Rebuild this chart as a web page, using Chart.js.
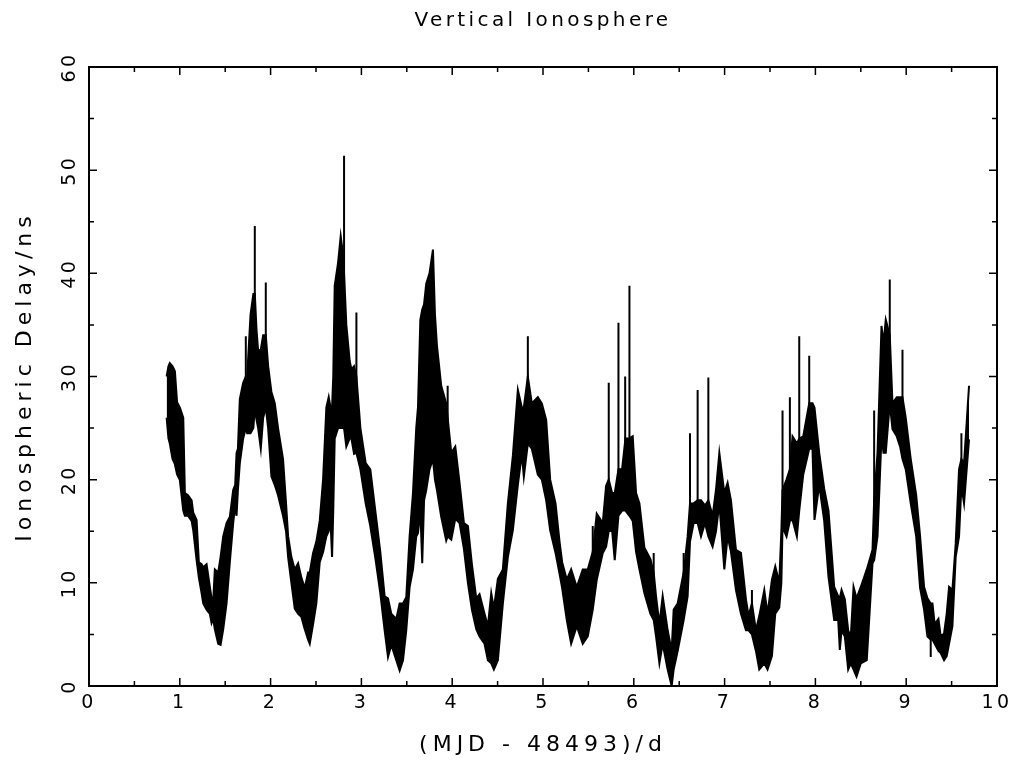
<!DOCTYPE html>
<html>
<head>
<meta charset="utf-8">
<title>Vertical Ionosphere</title>
<script src="https://cdn.jsdelivr.net/npm/chart.js@4.4.0/dist/chart.umd.min.js"></script>
<style>
  html, body { margin: 0; padding: 0; background: #fff; }
</style>
</head>
<body>
<canvas id="chart" width="1016" height="761"></canvas>
<script>
// (MJD - 48493)/d sample positions, with the lower and upper edge of the noisy band
const days = [
  0.855, 0.875, 0.89, 0.92, 0.946, 0.97, 1.0, 1.038, 1.056, 1.09,
  1.13, 1.148, 1.185, 1.21, 1.24, 1.258, 1.295, 1.331, 1.35, 1.368,
  1.386, 1.423, 1.449, 1.478, 1.515, 1.551, 1.588, 1.61, 1.625, 1.64,
  1.661, 1.698, 1.727, 1.742, 1.779, 1.81, 1.826, 1.845, 1.863, 1.892,
  1.918, 1.947, 1.973, 2.009,
  2.046, 2.082, 2.137, 2.17, 2.193, 2.229, 2.266, 2.303, 2.339, 2.376,
  2.413, 2.431, 2.468, 2.504, 2.541, 2.578, 2.614, 2.64, 2.66, 2.677,
  2.69, 2.706, 2.743, 2.772, 2.795, 2.809, 2.834, 2.871, 2.89, 2.919,
  2.945, 2.989,
  3.047, 3.098, 3.157, 3.208, 3.256, 3.293, 3.329, 3.384, 3.421, 3.458,
  3.494, 3.531, 3.568, 3.604, 3.623, 3.649, 3.67, 3.69, 3.714, 3.75,
  3.788, 3.81, 3.832, 3.879, 3.934, 3.95, 3.99,
  4.034, 4.081, 4.129, 4.173, 4.217, 4.265, 4.301, 4.356, 4.393, 4.43,
  4.459, 4.503, 4.558, 4.613, 4.668, 4.723, 4.767, 4.789, 4.833, 4.877,
  4.943, 4.987,
  5.035, 5.079, 5.138, 5.182, 5.211, 5.262, 5.31, 5.372, 5.438, 5.493,
  5.548, 5.592, 5.658, 5.695, 5.724, 5.761, 5.79, 5.831, 5.871, 5.908,
  5.952, 5.988,
  6.025, 6.062, 6.117, 6.183, 6.219, 6.245, 6.282, 6.318, 6.373, 6.417,
  6.439, 6.483, 6.549, 6.593, 6.619, 6.659, 6.703, 6.74, 6.784, 6.821,
  6.868, 6.905, 6.942, 6.997,
  7.033, 7.07, 7.125, 7.18, 7.235, 7.264, 7.301, 7.345, 7.382, 7.437,
  7.473, 7.521, 7.558, 7.602, 7.625, 7.638, 7.682, 7.719, 7.748, 7.796,
  7.822, 7.866, 7.932, 7.968, 7.99,
  8.042, 8.097, 8.144, 8.207, 8.251, 8.269, 8.288, 8.324, 8.361, 8.39,
  8.42, 8.453, 8.5, 8.566, 8.629, 8.647, 8.684, 8.728, 8.75, 8.775,
  8.819, 8.849, 8.896, 8.933, 8.959, 8.995,
  9.05, 9.11, 9.153, 9.197, 9.234, 9.27, 9.289, 9.314, 9.355, 9.38,
  9.417, 9.446, 9.472, 9.509, 9.545, 9.582, 9.608, 9.637, 9.666, 9.692
];
const delayLow = [
  26, 24, 23.5, 22, 21.5, 20.5, 20, 17, 16.5, 16.5,
  16, 15.1, 12.2, 10.5, 9, 8, 7.4, 7, 6.1, 6.5,
  5.5, 4.1, 4, 5.5, 8, 12, 15.8, 17.5, 16.5, 19,
  21.6, 24, 25, 24.5, 24.5, 25, 27, 25.8, 25, 23,
  26, 27, 25, 20.3,
  19.5, 18.5, 16.5, 15, 12.5, 10, 7.5, 7, 6.7, 5.5,
  4.5, 4.1, 6, 8, 12, 13, 14.5, 15, 16, 12.5,
  17, 24, 25, 25, 25, 25, 23.2, 24, 24, 22.5,
  22.6, 21,
  17.7, 15.5, 12.2, 9, 5.4, 2.8, 4, 2.5, 1.5, 2.5,
  5.4, 9.6, 11.3, 14.5, 14.8, 17, 11.9, 18, 19, 21,
  22, 20, 19, 16.4, 14.1, 14.5, 14.2,
  16.2, 15.8, 13.3, 10, 7.4, 5.5, 4.8, 4.1, 2.5, 2.2,
  1.6, 2.5, 8, 12.5, 15.1, 19.5, 22.5, 20.3, 23.5, 23,
  20.5, 20,
  18, 15.1, 12.9, 10.9, 9.5, 6.4, 4.1, 5.8, 4.1, 4.8,
  7.4, 10.3, 12.9, 13.5, 15, 15.1, 12.2, 16.5, 17, 17,
  16.5, 16,
  13, 11.3, 9, 7, 6.4, 4.8, 2.2, 4.1, 1.6, 0,
  1.6, 3.4, 6.4, 8.7, 14, 15.8, 15.8, 14.5, 15.8, 14.5,
  13.5, 15, 17.7, 11.3,
  14.5, 13, 9.3, 7, 5.4, 5.4, 5, 3.4, 1.6, 2.2,
  1.6, 2.9, 7, 7.6, 10, 15.4, 14.5, 16, 16.1, 14.5,
  17, 20.5, 23, 23, 16.1,
  19.5, 16, 10.6, 6.4, 6.4, 3.5, 5.4, 4.8, 1.6, 2.2,
  1.6, 0.9, 2.2, 2.5, 11.9, 12.2, 14.5, 24.2, 22.6, 22.6,
  27.4, 24.9, 24.2, 23.2, 22, 21,
  17.7, 14.5, 9.5, 7.4, 4.8, 4.5, 4.5, 4.1, 3.4, 3.2,
  2.5, 2.9, 4.1, 5.8, 12.5, 14.5, 19.4, 17.7, 21, 23.9
];
const delayHigh = [
  30, 31, 31.3, 31, 30.5, 27.5, 27, 26, 18.7, 18.5,
  18, 16.8, 16.1, 12, 11.8, 11.5, 11.8, 9.6, 8.5, 8.3,
  11.3, 11, 12.5, 14.5, 15.8, 16.4, 19, 19.5, 22.6, 23,
  27.8, 29.4, 30, 30, 36, 38, 38, 34.5, 32.5, 32.6,
  34, 34, 31, 28.5,
  27.4, 25, 22, 17.7, 14.5, 12.5, 11.3, 11.9, 10.5, 9.5,
  11, 11, 12.9, 14, 16, 20, 27, 28, 27, 27,
  30, 38.8, 41, 43.6, 42, 40, 35, 31.5, 30.7, 31,
  30, 25,
  21.6, 21, 16.7, 13, 8.7, 8.5, 7, 6.5, 8, 8,
  8.6, 14.5, 18.7, 25, 27, 35.5, 36.5, 37, 39, 40,
  42.3, 36, 33, 29.1, 27.4, 26, 22.6,
  23.2, 19.7, 15.8, 15.5, 11.8, 8.5, 8.9, 7, 5.8, 9,
  7.5, 10.4, 11.3, 17.7, 22.3, 28.7, 27, 27, 30, 27.4,
  28, 27.4,
  25.8, 20, 17.7, 14, 12, 10.3, 11.3, 9.6, 11.3, 11.3,
  13, 16.7, 15.8, 19.4, 20, 18.7, 18.7, 21, 21, 24,
  24, 24.2,
  18.7, 17.7, 13.4, 12.3, 11, 8.7, 6, 8.7, 5.4, 3.4,
  7.4, 8, 11, 14.5, 17.7, 17.7, 18, 18, 17.5, 18,
  16.5, 19, 22.6, 18.7,
  19.7, 18, 13.2, 12.9, 8.4, 6.8, 8, 5.4, 6.8, 9.3,
  7, 10.3, 11.6, 10, 15, 19, 20, 21, 24.2, 23.5,
  24, 24.2, 27.4, 27.4, 27,
  22.6, 19.1, 17, 9.6, 8.7, 8.5, 9.3, 8.4, 5.4, 4.8,
  9.6, 8.5, 9.6, 11.3, 13.2, 18, 22.6, 34.9, 33.2, 35.5,
  34, 27.4, 28, 28, 28, 26,
  22, 18.5, 14.5, 9.6, 8.5, 8, 8, 6, 6.5, 4.8,
  5.1, 7, 9.6, 9.3, 13.8, 21, 22, 21.6, 25.5, 29.1
];

// thin single-sample spikes sticking out of the band
const spikeDays = [1.727, 1.826, 1.947, 2.809, 2.945, 3.95, 4.833, 5.548, 5.724, 5.831,
  5.905, 5.952, 6.219, 6.549, 6.619, 6.703, 6.821, 7.301, 7.638, 7.719,
  7.822, 7.932, 8.647, 8.819, 8.959, 9.608, 9.27];
const spikeFrom = [28, 33, 30, 35, 28, 22, 25, 11, 17, 18,
  19, 19, 10, 10, 16, 16, 16, 6, 17, 18,
  20, 24, 16, 30, 25, 21, 2.8];
const spikeTo = [33.9, 44.6, 39.1, 51.4, 36.2, 29.1, 33.9, 15.5, 29.4, 35.2,
  30, 38.8, 12.9, 12.9, 24.5, 28.7, 29.9, 9.3, 26.7, 28,
  33.9, 32, 26.7, 39.4, 32.6, 24.5, 5];

const xTickValues = [0, 1, 2, 3, 4, 5, 6, 7, 8, 9, 10];
const xMinorValues = [0.5, 1.5, 2.5, 3.5, 4.5, 5.5, 6.5, 7.5, 8.5, 9.5];
const yTickValues = [0, 10, 20, 30, 40, 50, 60];
const yMinorValues = [5, 15, 25, 35, 45, 55];

const FONT = "'DejaVu Sans', sans-serif";

// box round the plot, inward ticks on all four sides, and the wide letter spacing
// (axis titles sit on a later layer so they get wider spacing than the rest)
const framePlugin = {
  id: "frame",
  beforeDraw(chart) {
    chart.ctx.letterSpacing = "3.4px";
  },
  afterDatasetsDraw(chart) {
    chart.ctx.letterSpacing = "5px";
  },
  afterDraw(chart) {
    const { ctx, chartArea: a, scales } = chart;
    ctx.letterSpacing = "0px";
    ctx.save();
    ctx.strokeStyle = "#000";
    ctx.lineWidth = 1.5;
    ctx.beginPath();
    const xTick = (v, len) => {
      const px = scales.x.getPixelForValue(v);
      ctx.moveTo(px, a.bottom); ctx.lineTo(px, a.bottom - len);
      ctx.moveTo(px, a.top); ctx.lineTo(px, a.top + len);
    };
    const yTick = (v, len) => {
      const py = scales.y.getPixelForValue(v);
      ctx.moveTo(a.left, py); ctx.lineTo(a.left + len, py);
      ctx.moveTo(a.right, py); ctx.lineTo(a.right - len, py);
    };
    xTickValues.forEach(v => xTick(v, 8));
    xMinorValues.forEach(v => xTick(v, 5));
    yTickValues.forEach(v => yTick(v, 8));
    yMinorValues.forEach(v => yTick(v, 5));
    ctx.stroke();
    ctx.lineWidth = 2;
    ctx.strokeRect(a.left, a.top, a.right - a.left, a.bottom - a.top);
    ctx.restore();
  }
};

const lowPts = days.map((d, i) => ({ x: d, y: delayLow[i] }));
const highPts = days.map((d, i) => ({ x: d, y: delayHigh[i] }));
const spikePts = spikeDays.flatMap((d, i) => [
  { x: d, y: spikeFrom[i] }, { x: d, y: spikeTo[i] }, { x: d, y: null }
]);

new Chart(document.getElementById("chart"), {
  type: "line",
  data: {
    datasets: [
      { data: lowPts, borderColor: "#000", borderWidth: 2, pointRadius: 0, fill: false },
      { data: highPts, borderColor: "#000", borderWidth: 2, pointRadius: 0,
        fill: "-1", backgroundColor: "#000" },
      { data: spikePts, borderColor: "#000", borderWidth: 2, pointRadius: 0, spanGaps: false }
    ]
  },
  options: {
    responsive: false,
    animation: false,
    devicePixelRatio: 1,
    layout: { padding: { left: 0, right: 19, top: 0, bottom: 0 } },
    plugins: {
      legend: { display: false },
      tooltip: { enabled: false },
      title: {
        display: true,
        fullSize: false,
        text: "Vertical Ionosphere",
        color: "#000",
        font: { family: FONT, size: 20, weight: "normal" },
        padding: { top: 9, bottom: 34 }
      }
    },
    scales: {
      x: {
        type: "linear",
        min: 0,
        max: 10,
        afterBuildTicks: s => { s.ticks = xTickValues.map(v => ({ value: v })); },
        afterFit: s => { s.height = 75; },
        grid: { display: false, drawTicks: false, z: 1 },
        border: { display: false },
        ticks: { color: "#000", padding: 6, maxRotation: 0, font: { family: FONT, size: 19 } },
        title: {
          display: true,
          text: "(MJD - 48493)/d",
          color: "#000",
          font: { family: FONT, size: 22 },
          padding: { top: 0, bottom: 3 }
        }
      },
      y: {
        min: 0,
        max: 60,
        afterBuildTicks: s => { s.ticks = yTickValues.map(v => ({ value: v })); },
        afterFit: s => { s.width = 89; },
        grid: { display: false, drawTicks: false, z: 1 },
        border: { display: false },
        ticks: {
          color: "#000", padding: 7, minRotation: 90, maxRotation: 90,
          crossAlign: "center", font: { family: FONT, size: 19 }
        },
        title: {
          display: true,
          text: "Ionospheric Delay/ns",
          color: "#000",
          font: { family: FONT, size: 22 },
          padding: { top: 12, bottom: 0 }
        }
      }
    }
  },
  plugins: [framePlugin]
});
</script>
</body>
</html>
